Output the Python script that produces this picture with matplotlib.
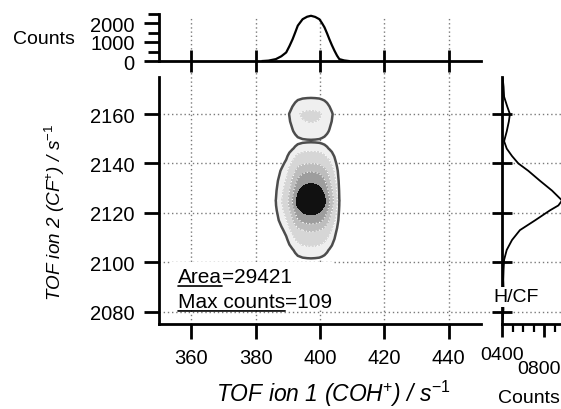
import numpy as np
import matplotlib.pyplot as plt
from matplotlib.ticker import MultipleLocator
from matplotlib.patches import Rectangle
from matplotlib.transforms import ScaledTranslation

plt.rcParams['font.family'] = ['Liberation Sans', 'DejaVu Sans']
plt.rcParams['mathtext.fontset'] = 'custom'
plt.rcParams['mathtext.rm'] = 'Liberation Sans'
plt.rcParams['mathtext.it'] = 'Liberation Sans:italic'

# ticks of the two TOF axes
tof1_ticks = [360, 380, 400, 420, 440]
tof2_ticks = [2080, 2100, 2120, 2140, 2160]

# top histogram: counts against TOF ion 1
top_x = [382.2, 384.0, 386.3, 388.0, 389.5, 390.5, 391.5, 392.3, 393.1, 394.6,
         396.0, 397.2, 398.5, 399.8, 400.6, 401.4, 402.2, 402.9, 403.7, 404.5,
         405.3, 406.0, 407.5, 408.9]
top_counts = [0, 20, 100, 250, 450, 780, 1150, 1500, 1860, 2200,
              2330, 2380, 2320, 2200, 2000, 1770, 1450, 1150, 830, 540,
              280, 100, 30, 0]

# right histogram: counts against TOF ion 2
right_y = [2077, 2081, 2085, 2089, 2093, 2097, 2101, 2105, 2109, 2113,
           2117, 2121, 2123, 2125, 2129, 2133, 2137, 2140, 2143, 2146,
           2149, 2153, 2157, 2160, 2163, 2167, 2171, 2175]
right_counts = [8, 14, 10, 15, 12, 15, 20, 45, 95, 170,
                315, 455, 535, 570, 475, 360, 250, 155, 95, 45,
                20, 45, 65, 75, 50, 20, 15, 5]
right_ticks = [0, 400]
right_tick_labels = ['0400', '0800']

area = 29421
max_counts = 109

# contour levels of the 2D map
levels = [4.5, 12, 30, 50, 75, 200]
band_colors = ['#efefef', '#d6d6d6', '#bdbdbd', '#9d9d9d', '#111111']

# 2D map rebuilt from the two marginals
tx = np.array(top_x)
tc = np.array(top_counts, dtype=float)
ry = np.array(right_y)
rc = np.array(right_counts, dtype=float)
Z = np.outer(rc / rc.max(), tc / tc.max()) * max_counts

W, H = 561, 410


def box(l, t, r, b):
    return [l / W, 1 - b / H, (r - l) / W, (b - t) / H]


fig = plt.figure(figsize=(W / 100, H / 100), dpi=100)
ax = fig.add_axes(box(159, 78, 481, 325))
ax_top = fig.add_axes(box(159, 14.5, 481, 62))
ax_r = fig.add_axes(box(502, 78, 561, 325))
for a in (ax_top, ax_r):
    a.patch.set_visible(False)
for a in (ax, ax_top, ax_r):
    a.spines[['top', 'right']].set_visible(False)
    a.spines[['left', 'bottom']].set_linewidth(2)

grid_kw = dict(color='#7a7a7a', lw=1, ls=(0, (1, 2)), clip_on=False, zorder=0.5)

# main panel
ax.set_xlim(350, 450)
ax.set_ylim(2075, 2175)
ax.set_xticks(tof1_ticks)
ax.set_yticks(tof2_ticks)
ax.tick_params(direction='out', length=11, width=2, pad=6.5, labelsize=14.5)
for xv in tof1_ticks:
    ax.axvline(xv, 0, 1.243, **grid_kw)
for yv in tof2_ticks:
    ax.axhline(yv, 0, 1.252, **grid_kw)

ax.contourf(tx, ry, Z, levels=levels, colors=band_colors, zorder=1)
ax.contour(tx, ry, Z, levels=levels[:1], colors='#4d4d4d', linewidths=1.8, zorder=1.2)
ax.contour(tx, ry, Z, levels=levels[1:4], colors='white', linewidths=0.8,
           linestyles=[(0, (1, 2))], zorder=1.1)

ax.set_xlabel('TOF ion 1 (COH$^{+}$) / s$^{-1}$', fontsize=16.5, style='italic')
ax.xaxis.set_label_coords(0.542, -0.312)
ax.xaxis.label.set_va('baseline')
ax.set_ylabel('TOF ion 2 (CF$^{+}$) / s$^{-1}$', fontsize=13.6, style='italic')
ax.yaxis.set_label_coords(-0.324, 0.457)
ax.yaxis.label.set_va('center')

# stats box
ax.add_patch(Rectangle((0.034, 0.057), 0.508, 0.194, transform=ax.transAxes,
                       fc='white', ec='none', zorder=3))
line_kw = dict(arrowstyle='-', lw=1.2, color='black', shrinkA=0, shrinkB=0)
for y0, name, val in [(0.170, 'Area', area), (0.069, 'Max counts', max_counts)]:
    t = ax.text(0.059, y0, name, transform=ax.transAxes, fontsize=15, zorder=4)
    ax.annotate(f'={val}', xy=(1, 0), xycoords=t, ha='left', va='bottom',
                fontsize=15, zorder=4)
    ax.annotate('', xy=(0, 0), xycoords=t, xytext=(1, 0), textcoords=t,
                arrowprops=line_kw, zorder=4)

# top panel
ax_top.set_xlim(350, 450)
ax_top.set_ylim(0, 2500)
ax_top.set_xticks(tof1_ticks)
ax_top.set_yticks([0, 1000, 2000])
ax_top.yaxis.set_minor_locator(MultipleLocator(500))
ax_top.tick_params(axis='y', which='major', direction='out', length=11, width=2,
                   pad=6.5, labelsize=14.5)
ax_top.tick_params(axis='y', which='minor', direction='out', length=8, width=2)
ax_top.tick_params(axis='x', direction='inout', length=16, width=2, labelbottom=False)
ax_top.plot(tx, tc, color='black', lw=1.6, clip_on=False)
ax_top.set_ylabel('Counts', fontsize=14, rotation=0, ha='center', va='center')
ax_top.yaxis.set_label_coords(-0.358, 0.484)

# right panel
ax_r.set_ylim(2075, 2175)
ax_r.set_xlim(0, 560)
ax_r.set_yticks(tof2_ticks)
ax_r.tick_params(axis='y', direction='inout', length=15, width=2, labelleft=False)
ax_r.set_xticks(right_ticks, right_tick_labels)
ax_r.xaxis.set_minor_locator(MultipleLocator(100))
ax_r.tick_params(axis='x', which='major', direction='out', length=9, width=2,
                 pad=7, labelsize=14)
ax_r.tick_params(axis='x', which='minor', direction='out', length=6, width=1.6)
tick2 = ax_r.xaxis.get_major_ticks()[1]
tick2.set_pad(17)
tick2.label1.set_transform(tick2.label1.get_transform()
                           + ScaledTranslation(-0.05, 0, fig.dpi_scale_trans))
ax_r.plot(rc, ry, color='black', lw=1.3)
ax_r.text(0.237, 2086, 'H/CF', transform=ax_r.get_yaxis_transform(), fontsize=14,
          ha='center', va='center',
          bbox=dict(fc='white', ec='none', pad=1))
ax_r.set_xlabel('Counts', fontsize=14)
ax_r.xaxis.set_label_coords(0.46, -0.296)
ax_r.xaxis.label.set_va('center')

fig.savefig('out.png', dpi=100)
